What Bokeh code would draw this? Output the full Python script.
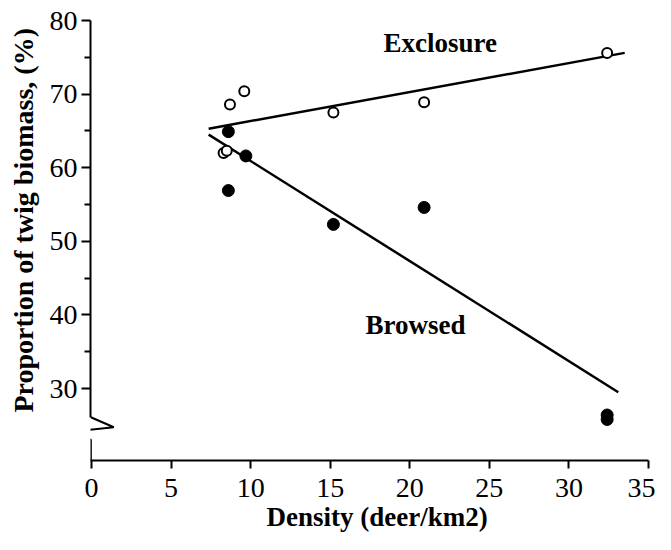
from bokeh.plotting import figure
from bokeh.models import FixedTicker, Range1d, Label, Title
from bokeh.embed import file_html
from bokeh.resources import INLINE

# ---- data ----
excl_x = [8.3, 8.5, 8.7, 9.6, 15.2, 20.9, 32.4]
excl_y = [62.0, 62.3, 68.6, 70.4, 67.5, 68.9, 75.6]
brow_x = [8.6, 8.6, 9.7, 15.2, 20.9, 32.4, 32.4]
brow_y = [64.9, 56.9, 61.6, 52.3, 54.6, 26.4, 25.8]
excl_fit_x = [7.36, 33.5]
excl_fit_y = [65.3, 75.6]
brow_fit_x = [7.36, 33.1]
brow_fit_y = [64.5, 29.5]
x_ticks = [0, 5, 10, 15, 20, 25, 30, 35]
y_ticks = [30, 40, 50, 60, 70, 80]
y_minor = [35, 45, 55, 65, 75]

FONT = "Liberation Serif"

p = figure(width=655, height=534, output_backend="svg", toolbar_location=None,
           x_range=Range1d(-0.063, 35.25), y_range=Range1d(20.22, 81.36),
           min_border_left=90, min_border_right=3, min_border_top=10, min_border_bottom=74)
p.grid.visible = False
p.outline_line_color = None
p.background_fill_color = "white"

# axes
xa = p.xaxis[0]
xa.ticker = FixedTicker(ticks=x_ticks)
xa.bounds = (-0.5, 35)
ya = p.yaxis[0]
ya.ticker = FixedTicker(ticks=y_ticks, minor_ticks=y_minor)
ya.bounds = (26.1, 80)
for ax in (xa, ya):
    ax.axis_line_width = 2
    ax.axis_line_color = "black"
    ax.major_tick_line_width = 2
    ax.major_tick_line_color = "black"
    ax.minor_tick_line_width = 2
    ax.minor_tick_line_color = "black"
    ax.major_tick_in = 0
    ax.minor_tick_in = 0
    ax.major_label_text_font = FONT
    ax.major_label_text_font_size = "28px"
    ax.major_label_text_color = "black"
xa.major_tick_out = 8
xa.minor_tick_out = 0
xa.major_label_standoff = 10
ya.major_tick_out = 9
ya.minor_tick_out = 6
ya.major_label_standoff = 4

# axis titles
p.add_layout(Title(text="Density (deer/km2)", text_font=FONT, text_font_style="bold",
                   text_color="black", text_font_size="27px", align="left",
                   offset=176, standoff=0), "below")
p.add_layout(Title(text="Proportion of twig biomass, (%)", text_font=FONT, text_font_style="bold",
                   text_color="black", text_font_size="28px", align="left",
                   vertical_align="top", offset=48, standoff=12), "left")

# axis break (zigzag) on y axis
p.line([-0.04, 1.4, -0.94, -0.04, -0.04], [26.1, 24.74, 24.2, 23.03, 20.22],
       line_color="black", line_width=2)

# regression lines
p.line(excl_fit_x, excl_fit_y, line_color="black", line_width=2.5)
p.line(brow_fit_x, brow_fit_y, line_color="black", line_width=2.5)

# points
p.scatter(brow_x, brow_y, size=12, marker="circle", fill_color="black", line_color="black")
p.scatter(excl_x, excl_y, size=10, marker="circle", fill_color="white", line_color="black", line_width=2)

# series labels
common = dict(text_font=FONT, text_font_style="bold", text_color="black",
              text_font_size="27px", text_baseline="alphabetic", text_align="left")
p.add_layout(Label(x=18.35, y=77.0, text="Exclosure", **common))
p.add_layout(Label(x=17.22, y=38.6, text="Browsed", **common))

open("out.html", "w").write(file_html(p, INLINE))
